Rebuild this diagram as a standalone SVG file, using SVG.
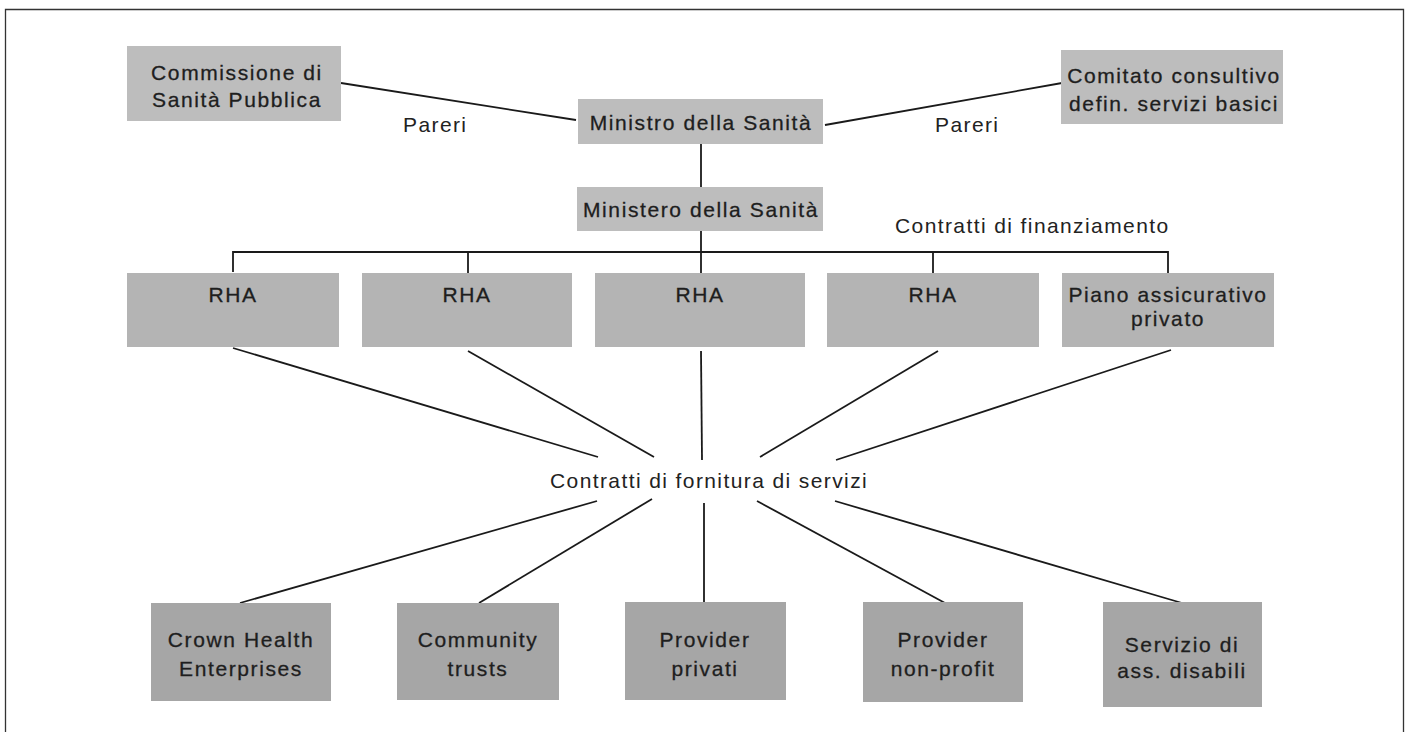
<svg xmlns="http://www.w3.org/2000/svg" width="1407" height="732" viewBox="0 0 1407 732">
<style>
.box-a{fill:#bdbdbd}
.box-b{fill:#b4b4b4}
.box-c{fill:#a6a6a6}
.nt{font-family:"Liberation Sans",Arial,sans-serif;font-size:21px;letter-spacing:1.6px;fill:#1e1e1e;stroke:#1e1e1e;stroke-width:0.3;text-anchor:middle}
.lbl{font-family:"Liberation Sans",Arial,sans-serif;font-size:21px;letter-spacing:1.4px;fill:#222}
.ln{stroke:#1a1a1a;stroke-width:1.8;fill:none}
</style>
<rect width="1407" height="732" fill="#ffffff"/>
<path d="M5.5,732 V9.5 H1403.5 V732" fill="none" stroke="#333" stroke-width="1.3"/>
<g id="connectors" class="ln">
<line x1="341" y1="83" x2="576" y2="120"/>
<line x1="825" y1="125" x2="1062" y2="83"/>
<line x1="701" y1="144" x2="701" y2="187"/>
<line x1="701" y1="231" x2="701" y2="273"/>
<path d="M233,272 V252 H1168 V273"/>
<line x1="468" y1="252" x2="468" y2="273"/>
<line x1="933" y1="252" x2="933" y2="273"/>
<line x1="233" y1="348" x2="598" y2="457"/>
<line x1="468" y1="351" x2="654" y2="457"/>
<line x1="701" y1="351" x2="702" y2="460"/>
<line x1="938" y1="351" x2="760" y2="457"/>
<line x1="1171" y1="350" x2="836" y2="460"/>
<line x1="597" y1="501" x2="240" y2="603"/>
<line x1="652" y1="499" x2="479" y2="603"/>
<line x1="704" y1="503" x2="704" y2="602"/>
<line x1="757" y1="501" x2="945" y2="603"/>
<line x1="835" y1="501" x2="1182" y2="603"/>
</g>
<g id="labels">
<text class="lbl" x="403" y="132">Pareri</text>
<text class="lbl" x="935" y="132">Pareri</text>
<text class="lbl" x="895" y="233">Contratti di finanziamento</text>
<text class="lbl" x="550" y="488">Contratti di fornitura di servizi</text>
</g>
<g id="commissione">
<rect class="box-a" x="127" y="46" width="214" height="75"/>
<text class="nt" x="237" y="80">Commissione di</text>
<text class="nt" x="237" y="107">Sanità Pubblica</text>
</g>
<g id="ministro">
<rect class="box-a" x="578" y="99" width="245" height="45"/>
<text class="nt" x="701" y="130">Ministro della Sanità</text>
</g>
<g id="comitato">
<rect class="box-a" x="1061" y="50" width="222" height="74"/>
<text class="nt" x="1174" y="83">Comitato consultivo</text>
<text class="nt" x="1174" y="111">defin. servizi basici</text>
</g>
<g id="ministero">
<rect class="box-a" x="577" y="187" width="246" height="44"/>
<text class="nt" x="701" y="217">Ministero della Sanità</text>
</g>
<g id="rha1">
<rect class="box-b" x="127" y="273" width="212" height="74"/>
<text class="nt" x="233" y="302">RHA</text>
</g>
<g id="rha2">
<rect class="box-b" x="362" y="273" width="210" height="74"/>
<text class="nt" x="467" y="302">RHA</text>
</g>
<g id="rha3">
<rect class="box-b" x="595" y="273" width="210" height="74"/>
<text class="nt" x="700" y="302">RHA</text>
</g>
<g id="rha4">
<rect class="box-b" x="827" y="273" width="212" height="74"/>
<text class="nt" x="933" y="302">RHA</text>
</g>
<g id="piano">
<rect class="box-b" x="1062" y="273" width="212" height="74"/>
<text class="nt" x="1168" y="302">Piano assicurativo</text>
<text class="nt" x="1168" y="326">privato</text>
</g>
<g id="crown">
<rect class="box-c" x="151" y="603" width="180" height="98"/>
<text class="nt" x="241" y="647">Crown Health</text>
<text class="nt" x="241" y="676">Enterprises</text>
</g>
<g id="community">
<rect class="box-c" x="397" y="603" width="162" height="97"/>
<text class="nt" x="478" y="647">Community</text>
<text class="nt" x="478" y="676">trusts</text>
</g>
<g id="provider-privati">
<rect class="box-c" x="625" y="602" width="161" height="98"/>
<text class="nt" x="705" y="647">Provider</text>
<text class="nt" x="705" y="676">privati</text>
</g>
<g id="provider-nonprofit">
<rect class="box-c" x="863" y="602" width="160" height="100"/>
<text class="nt" x="943" y="647">Provider</text>
<text class="nt" x="943" y="676">non-profit</text>
</g>
<g id="servizio">
<rect class="box-c" x="1103" y="602" width="159" height="105"/>
<text class="nt" x="1182" y="652">Servizio di</text>
<text class="nt" x="1182" y="678">ass. disabili</text>
</g>
</svg>
